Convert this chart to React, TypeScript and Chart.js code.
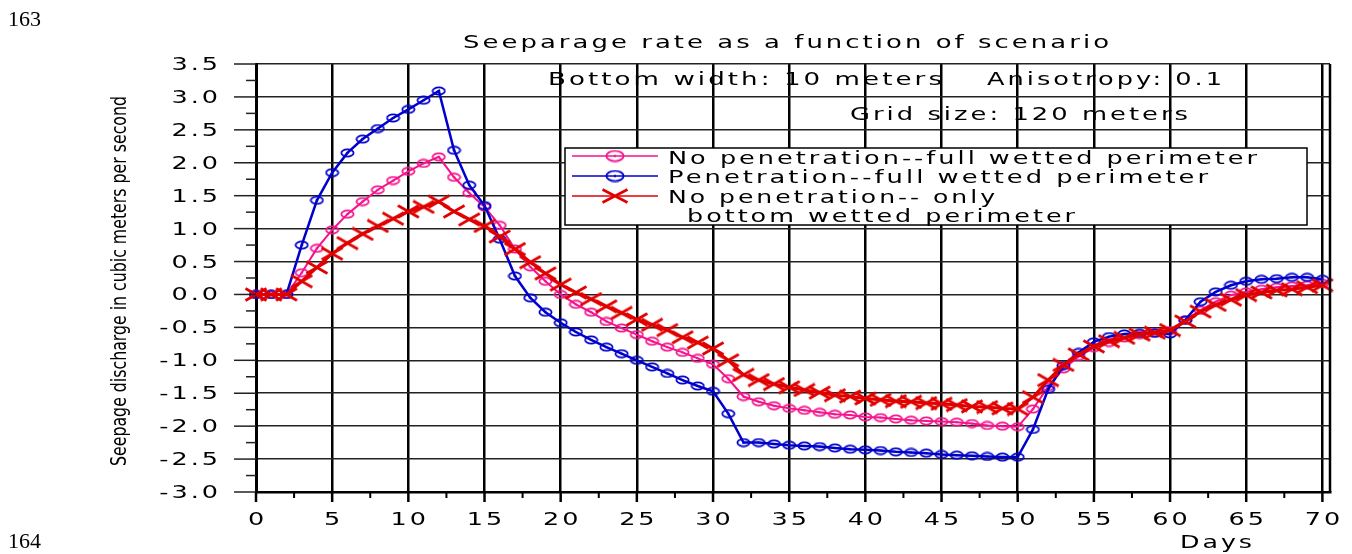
import React, { useEffect, useRef } from 'react';
import { Chart, registerables } from 'chart.js';

Chart.register(...registerables);

// ---------------- data ----------------
const days = [
  0, 1, 2, 3, 4, 5, 6, 7, 8, 9, 10, 11, 12, 13, 14, 15, 16, 17, 18, 19, 20,
  21, 22, 23, 24, 25, 26, 27, 28, 29, 30, 31, 32, 33, 34, 35, 36, 37, 38, 39, 40,
  41, 42, 43, 44, 45, 46, 47, 48, 49, 50, 51, 52, 53, 54, 55, 56, 57, 58, 59, 60,
  61, 62, 63, 64, 65, 66, 67, 68, 69, 70,
];

const noPenetrationFull = [
  0, 0, 0, 0.33, 0.7, 0.98, 1.22, 1.41, 1.59, 1.73, 1.87, 1.99, 2.09, 1.78, 1.54, 1.33, 1.05, 0.69, 0.42, 0.2, 0.0,
  -0.15, -0.27, -0.41, -0.51, -0.61, -0.71, -0.8, -0.88, -0.97, -1.06, -1.28, -1.55, -1.63, -1.69, -1.73, -1.76, -1.79, -1.82, -1.83, -1.86,
  -1.87, -1.89, -1.91, -1.92, -1.93, -1.94, -1.96, -1.99, -2.0, -2.01, -1.74, -1.4, -1.13, -0.94, -0.81, -0.73, -0.66, -0.61, -0.58, -0.55,
  -0.39, -0.24, -0.11, -0.01, 0.04, 0.08, 0.11, 0.13, 0.14, 0.17,
];

const penetrationFull = [
  0, 0, 0, 0.75, 1.43, 1.85, 2.15, 2.36, 2.52, 2.68, 2.81, 2.95, 3.09, 2.19, 1.66, 1.35, 0.84, 0.28, -0.05, -0.27, -0.43,
  -0.57, -0.69, -0.8, -0.9, -1.0, -1.1, -1.2, -1.3, -1.39, -1.47, -1.81, -2.25, -2.25, -2.27, -2.29, -2.3, -2.31, -2.33, -2.35, -2.36,
  -2.37, -2.39, -2.4, -2.41, -2.43, -2.44, -2.45, -2.46, -2.47, -2.47, -2.05, -1.44, -1.08, -0.88, -0.72, -0.64, -0.6, -0.59, -0.59, -0.6,
  -0.39, -0.11, 0.04, 0.14, 0.2, 0.23, 0.24, 0.26, 0.26, 0.23,
];

const noPenetrationBottom = [
  0, 0, 0, 0.2, 0.41, 0.62, 0.78, 0.92, 1.04, 1.15, 1.26, 1.33, 1.41, 1.26, 1.14, 1.04, 0.88, 0.69, 0.49, 0.32, 0.15,
  0.03, -0.07, -0.18, -0.28, -0.38, -0.46, -0.54, -0.65, -0.73, -0.82, -1.0, -1.22, -1.3, -1.36, -1.41, -1.45, -1.49, -1.53, -1.55, -1.58,
  -1.6, -1.62, -1.63, -1.65, -1.66, -1.68, -1.7, -1.71, -1.73, -1.74, -1.56, -1.3, -1.07, -0.91, -0.79, -0.71, -0.66, -0.61, -0.58, -0.54,
  -0.41, -0.26, -0.16, -0.08, -0.01, 0.03, 0.06, 0.08, 0.11, 0.14,
];

const xTicks = [0, 5, 10, 15, 20, 25, 30, 35, 40, 45, 50, 55, 60, 65, 70];
const yTicks = [-3.0, -2.5, -2.0, -1.5, -1.0, -0.5, 0.0, 0.5, 1.0, 1.5, 2.0, 2.5, 3.0, 3.5];

const seriesLabels = [
  'No penetration--full wetted perimeter',
  'Penetration--full wetted perimeter',
  'No penetration-- only bottom wetted perimeter',
];
const legendLines = [
  ['No penetration--full wetted perimeter'],
  ['Penetration--full wetted perimeter'],
  ['No penetration-- only', 'bottom wetted perimeter'],
];
const chartTitle = 'Seeparage rate as a function of scenario';
const notes = ['Bottom width: 10 meters', 'Anisotropy: 0.1', 'Grid size: 120 meters'];
const xAxisTitle = 'Days';
const yAxisTitle = 'Seepage discharge in cubic meters per second';
const pageNumbers = ['163', '164'];

// ---------------- styles ----------------
const W = 1352;
const H = 554;
const PINK = '#f5138c';
const BLUE = '#0000cc';
const RED = '#e10000';
const FONT = '"DejaVu Sans", "Open Sans", sans-serif';

type TextOpts = {
  size: number;
  spacing: number;
  width?: number;
  scaleX?: number;
  align?: 'left' | 'center' | 'right';
  font?: string;
  color?: string;
};

function drawText(ctx: CanvasRenderingContext2D, text: string, x: number, baseline: number, o: TextOpts) {
  ctx.save();
  const c: any = ctx;
  ctx.font = `${o.size}px ${o.font ?? FONT}`;
  c.letterSpacing = '0px';
  const n = Array.from(text).length;
  const raw = ctx.measureText(text).width + o.spacing * (n - 1);
  const sx = o.width ? o.width / raw : o.scaleX ?? 1;
  const w = raw * sx;
  const align = o.align ?? 'left';
  const left = align === 'left' ? x : align === 'center' ? x - w / 2 : x - w;
  c.letterSpacing = `${o.spacing}px`;
  ctx.textAlign = 'left';
  ctx.textBaseline = 'alphabetic';
  ctx.fillStyle = o.color ?? '#000';
  ctx.translate(left, baseline);
  ctx.scale(sx, 1);
  ctx.fillText(text, 0, 0);
  ctx.restore();
}

function makeEllipse(color: string, w: number, h: number, lw: number) {
  const cv = document.createElement('canvas');
  cv.width = w;
  cv.height = h;
  const g = cv.getContext('2d')!;
  g.strokeStyle = color;
  g.lineWidth = lw;
  g.beginPath();
  g.ellipse(w / 2, h / 2, w / 2 - lw / 2 - 0.5, h / 2 - lw / 2 - 0.5, 0, 0, Math.PI * 2);
  g.stroke();
  g.fillStyle = color;
  g.fillRect(w / 2 - 1, h / 2 - 1, 2, 2);
  return cv;
}

function makeCross(color: string, w: number, h: number, lw: number) {
  const cv = document.createElement('canvas');
  cv.width = w;
  cv.height = h;
  const g = cv.getContext('2d')!;
  g.strokeStyle = color;
  g.lineWidth = lw;
  g.beginPath();
  g.moveTo(1.5, 1.5);
  g.lineTo(w - 1.5, h - 1.5);
  g.moveTo(1.5, h - 1.5);
  g.lineTo(w - 1.5, 1.5);
  g.stroke();
  return cv;
}

const TICK = { size: 17, spacing: 2, scaleX: 1.5 };

export default function App() {
  const ref = useRef<HTMLCanvasElement>(null);

  useEffect(() => {
    if (!ref.current) return;
    const pinkPt = makeEllipse(PINK, 15, 10, 1.8);
    const bluePt = makeEllipse(BLUE, 15, 10, 1.8);
    const redPt = makeCross(RED, 24, 15, 2.6);
    const legendMarkers = [makeEllipse(PINK, 20, 13, 1.8), makeEllipse(BLUE, 20, 13, 1.8), makeCross(RED, 28, 16, 2.6)];
    const colors = [PINK, BLUE, RED];

    const decor = {
      id: 'decor',
      beforeDraw(chart: any) {
        const ctx = chart.ctx as CanvasRenderingContext2D;
        ctx.save();
        ctx.fillStyle = '#fff';
        ctx.fillRect(0, 0, W, H);
        ctx.restore();
      },
      beforeDatasetsDraw(chart: any) {
        const ctx = chart.ctx as CanvasRenderingContext2D;
        drawText(ctx, notes[0], 548, 85, { size: 17, spacing: 2, width: 394 });
        drawText(ctx, notes[1], 987, 85, { size: 17, spacing: 2, width: 235 });
        drawText(ctx, notes[2], 850, 120, { size: 17, spacing: 2, width: 338 });
      },
      afterDatasetsDraw(chart: any) {
        const ctx = chart.ctx as CanvasRenderingContext2D;
        const a = chart.chartArea;
        const xs = chart.scales.x;
        const ys = chart.scales.y;

        ctx.save();
        // right border
        ctx.strokeStyle = '#000';
        ctx.lineWidth = 2.5;
        ctx.beginPath();
        ctx.moveTo(a.right, a.top);
        ctx.lineTo(a.right, a.bottom);
        ctx.stroke();

        // y ticks (major + minor)
        ctx.strokeStyle = '#222';
        ctx.lineWidth = 1.5;
        yTicks.forEach((v, i) => {
          const py = ys.getPixelForValue(v);
          ctx.beginPath();
          ctx.moveTo(a.left - 22, py);
          ctx.lineTo(a.left, py);
          ctx.stroke();
          if (i < yTicks.length - 1) {
            const my = ys.getPixelForValue((v + yTicks[i + 1]) / 2);
            ctx.beginPath();
            ctx.moveTo(a.left - 10, my);
            ctx.lineTo(a.left, my);
            ctx.stroke();
          }
        });
        // x ticks (major + minor)
        ctx.strokeStyle = '#000';
        xTicks.forEach((v, i) => {
          const px = xs.getPixelForValue(v);
          ctx.lineWidth = 2.5;
          ctx.beginPath();
          ctx.moveTo(px, a.bottom);
          ctx.lineTo(px, a.bottom + 10);
          ctx.stroke();
          if (i < xTicks.length - 1) {
            const mx = xs.getPixelForValue((v + xTicks[i + 1]) / 2);
            ctx.lineWidth = 2;
            ctx.beginPath();
            ctx.moveTo(mx, a.bottom);
            ctx.lineTo(mx, a.bottom + 6);
            ctx.stroke();
          }
        });
        ctx.restore();

        // tick labels
        xTicks.forEach((v) => drawText(ctx, String(v), xs.getPixelForValue(v), 525, { ...TICK, align: 'center' }));
        yTicks.forEach((v) => drawText(ctx, v.toFixed(1), a.left - 38, ys.getPixelForValue(v) + 6, { ...TICK, align: 'right' }));

        // titles
        drawText(ctx, chartTitle, 463, 48, { size: 17, spacing: 2, width: 646 });
        drawText(ctx, xAxisTitle, 1180, 548, { size: 17, spacing: 2, width: 72 });
        ctx.save();
        ctx.translate(126, 281);
        ctx.rotate(-Math.PI / 2);
        drawText(ctx, yAxisTitle, 0, 0, {
          size: 21,
          spacing: 0,
          width: 370,
          align: 'center',
          font: '"Liberation Sans Narrow", "DejaVu Sans Condensed", "Liberation Sans", sans-serif',
        });
        ctx.restore();

        // legend
        ctx.save();
        ctx.fillStyle = '#fff';
        ctx.fillRect(565, 148, 742, 77);
        ctx.strokeStyle = '#000';
        ctx.lineWidth = 1.5;
        ctx.strokeRect(565, 148, 742, 77);
        const rowY = [156, 176, 196];
        rowY.forEach((ly, i) => {
          ctx.strokeStyle = colors[i];
          ctx.lineWidth = 1.5;
          ctx.beginPath();
          ctx.moveTo(572, ly);
          ctx.lineTo(658, ly);
          ctx.stroke();
          const m = legendMarkers[i];
          ctx.drawImage(m, 615 - m.width / 2, ly - m.height / 2);
        });
        ctx.restore();
        drawText(ctx, legendLines[0][0], 668, 163.5, { size: 17, spacing: 2, width: 589 });
        drawText(ctx, legendLines[1][0], 668, 182.5, { size: 17, spacing: 2, width: 540 });
        drawText(ctx, legendLines[2][0], 668, 202.5, { size: 17, spacing: 2, width: 327 });
        drawText(ctx, legendLines[2][1], 687, 221.5, { size: 17, spacing: 2, width: 388 });

        // page numbers
        ctx.save();
        ctx.font = '22px "Liberation Serif", "Times New Roman", serif';
        ctx.fillStyle = '#000';
        ctx.textBaseline = 'alphabetic';
        ctx.fillText(pageNumbers[0], 8, 26);
        ctx.fillText(pageNumbers[1], 8, 548);
        ctx.restore();
      },
    };

    const mk = (vals: number[]) => days.map((d, i) => ({ x: d, y: vals[i] }));

    const chart = new Chart(ref.current, {
      type: 'line',
      data: {
        datasets: [
          {
            label: seriesLabels[0],
            data: mk(noPenetrationFull),
            borderColor: PINK,
            borderWidth: 2,
            pointStyle: pinkPt as any,
            pointRadius: 5,
            tension: 0,
            clip: false as any,
            order: 2,
          },
          {
            label: seriesLabels[1],
            data: mk(penetrationFull),
            borderColor: BLUE,
            borderWidth: 2.5,
            pointStyle: bluePt as any,
            pointRadius: 5,
            tension: 0,
            clip: false as any,
            order: 1,
          },
          {
            label: seriesLabels[2],
            data: mk(noPenetrationBottom),
            borderColor: RED,
            borderWidth: 3,
            pointStyle: redPt as any,
            pointRadius: 5,
            tension: 0,
            clip: false as any,
            order: 0,
          },
        ],
      },
      options: {
        responsive: false,
        animation: false,
        events: [],
        layout: { padding: { left: 256, right: 22, top: 64, bottom: 62 } },
        plugins: { legend: { display: false }, tooltip: { enabled: false }, title: { display: false } },
        scales: {
          x: {
            type: 'linear',
            min: 0,
            max: 70.5,
            afterBuildTicks: (s: any) => {
              s.ticks = xTicks.map((v) => ({ value: v }));
            },
            ticks: { display: false },
            grid: { color: '#000', lineWidth: 2.5, drawTicks: false },
            border: { display: true, color: '#000', width: 2.5 },
          },
          y: {
            type: 'linear',
            min: -3,
            max: 3.5,
            afterBuildTicks: (s: any) => {
              s.ticks = yTicks.map((v) => ({ value: v }));
            },
            ticks: { display: false },
            grid: { color: '#222', lineWidth: 1.5, drawTicks: false },
            border: { display: true, color: '#000', width: 3 },
          },
        },
      },
      plugins: [decor],
    });
    return () => chart.destroy();
  }, []);

  return (
    <div style={{ position: 'absolute', left: 0, top: 0, width: W, height: H }}>
      <canvas ref={ref} width={W} height={H} style={{ width: W, height: H, display: 'block' }} />
    </div>
  );
}
